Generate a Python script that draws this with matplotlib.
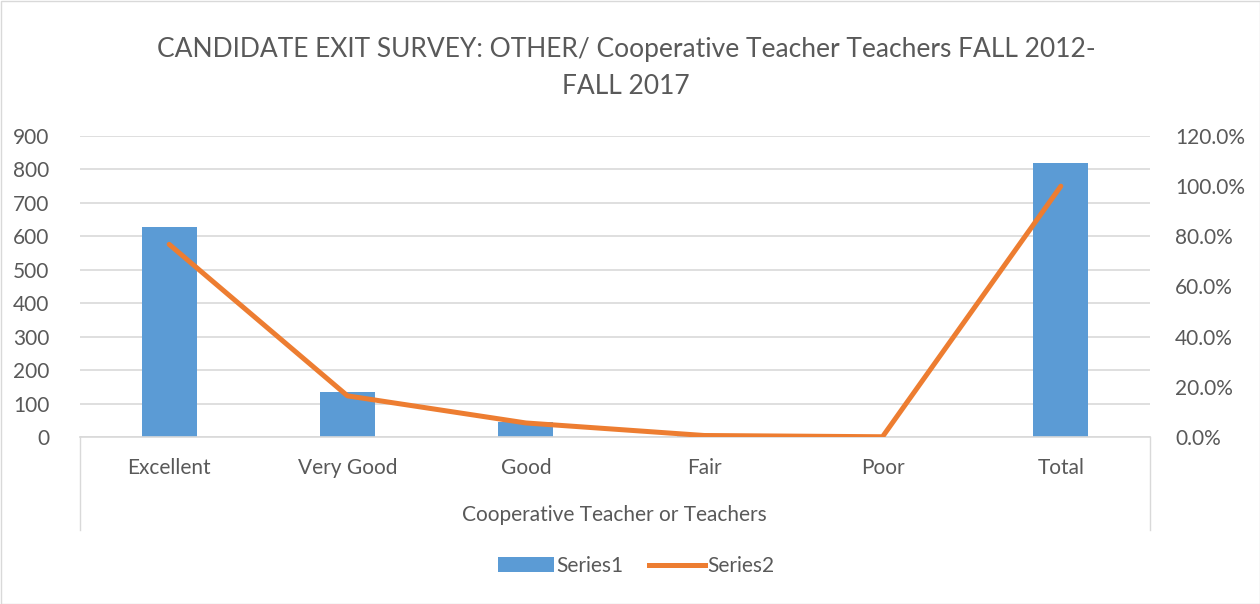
import matplotlib
matplotlib.use("Agg")
import matplotlib.pyplot as plt
from matplotlib.ticker import FuncFormatter, MultipleLocator
from matplotlib.lines import Line2D
from matplotlib.patches import Patch

categories = ["Excellent", "Very Good", "Good", "Fair", "Poor", "Total"]
series1 = [629, 134, 46, 5, 1, 819]
series2 = [0.768, 0.164, 0.056, 0.006, 0.001, 1.0]
title = "CANDIDATE EXIT SURVEY: OTHER/ Cooperative Teacher Teachers FALL 2012-\nFALL 2017"
xlabel = "Cooperative Teacher or Teachers"

plt.rcParams['font.family'] = ['Lato', 'DejaVu Sans']
TXT = "#595959"
GRID = "#D9D9D9"
FS = 15

fig = plt.figure(figsize=(12.6, 6.04), dpi=100)
W, H = 1260, 604
left, right, bottom, top = 80, 1150, 437, 136
ax = fig.add_axes([left / W, 1 - bottom / H, (right - left) / W, (bottom - top) / H])
ax2 = ax.twinx()

x = list(range(len(categories)))
ax.bar(x, series1, width=0.31, color="#5B9BD5", zorder=2)
ax2.plot(x, series2, color="#ED7D31", linewidth=3.6, solid_capstyle="round", zorder=3)

ax.set_xlim(-0.5, len(categories) - 0.5)
ax.set_ylim(0, 900)
ax2.set_ylim(0, 1.2)
ax.yaxis.set_major_locator(MultipleLocator(100))
ax2.yaxis.set_major_locator(MultipleLocator(0.2))
ax2.yaxis.set_major_formatter(FuncFormatter(lambda v, p: f"{v*100:.1f}%"))

ax.grid(axis="y", color=GRID, linewidth=1.2, zorder=0)
ax.set_axisbelow(True)
for a in (ax, ax2):
    for s in a.spines.values():
        s.set_visible(False)
    a.tick_params(length=0, labelsize=FS, labelcolor=TXT)
ax.spines["bottom"].set_visible(True)
ax.spines["bottom"].set_color(GRID)
ax.spines["bottom"].set_linewidth(1.2)
ax.tick_params(axis="y", pad=22)
ax2.tick_params(axis="y", pad=18)
ax.set_xticks(x)
ax.set_xticklabels(categories)
ax.tick_params(axis="x", pad=15)

# category-axis frame lines
for px in (left, right):
    fig.add_artist(Line2D([px / W, px / W], [1 - 437 / H, 1 - 530 / H], color=GRID, linewidth=1.0))

fig.text(614 / W, 1 - 515 / H, xlabel, ha="center", va="center", fontsize=FS, color=TXT)
fig.text(626 / W, 1 - 68 / H, title, ha="center", va="center", fontsize=19, color=TXT, linespacing=1.6)

handles = [Patch(facecolor="#5B9BD5"), Line2D([0], [0], color="#ED7D31", linewidth=3.6)]
fig.legend(handles, ["Series1", "Series2"], loc="center", bbox_to_anchor=(636 / W, 1 - 566 / H),
           ncol=2, frameon=False, fontsize=FS, labelcolor=TXT, handlelength=2.7,
           handletextpad=0.1, columnspacing=1.2)

# outer border
fig.add_artist(plt.Rectangle((0.5 / W, 0.5 / H), 1 - 1 / W, 1 - 1 / H, fill=False,
                             edgecolor=GRID, linewidth=1.0, transform=fig.transFigure))

fig.savefig("out.png", dpi=100)
